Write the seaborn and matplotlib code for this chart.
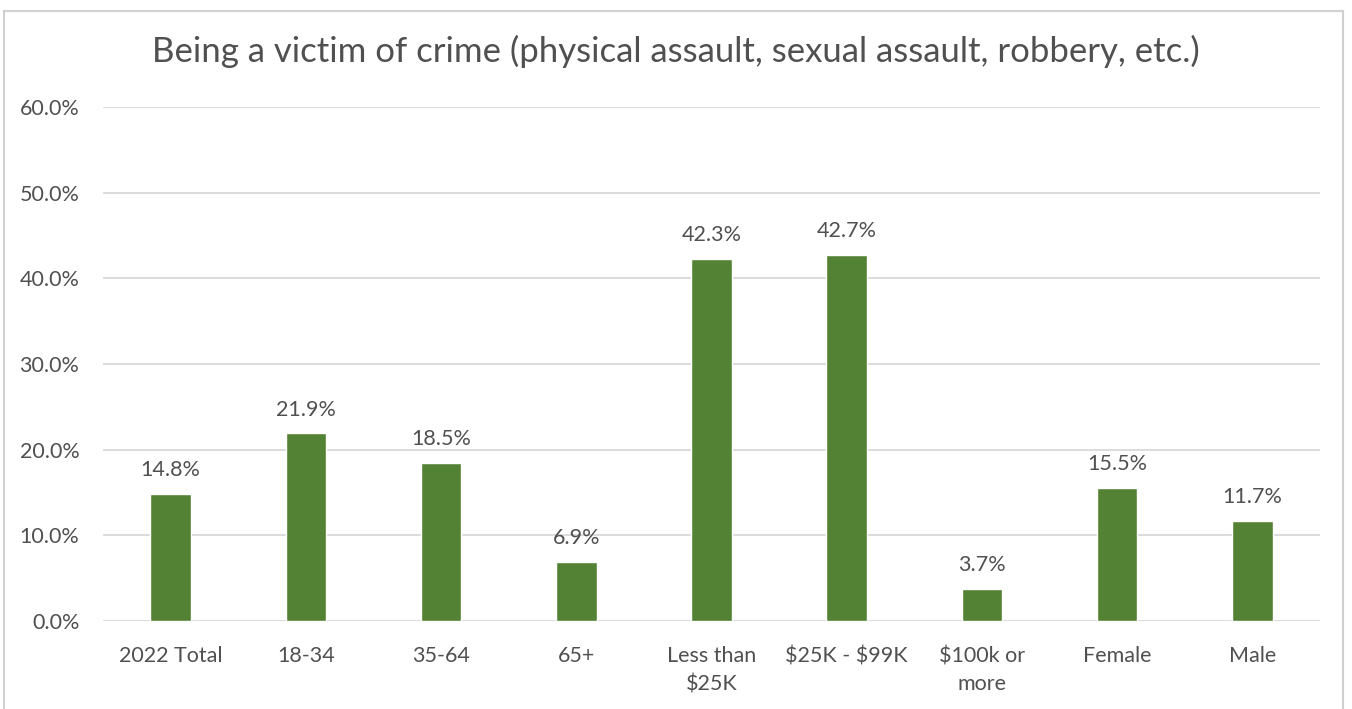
import matplotlib
matplotlib.use("Agg")
import matplotlib.pyplot as plt
import matplotlib.patches as mpatches
import seaborn as sns
import pandas as pd

categories = ["2022 Total", "18-34", "35-64", "65+", "Less than\n$25K",
              "$25K - $99K", "$100k or\nmore", "Female", "Male"]
values = [14.8, 21.9, 18.5, 6.9, 42.3, 42.7, 3.7, 15.5, 11.7]
yticks = [0, 10, 20, 30, 40, 50, 60]

title = "Being a victim of crime (physical assault, sexual assault, robbery, etc.)"
bar_color = "#548235"
text_color = "#505050"
grid_color = "#d9d9d9"

sns.set_theme(style="white")
plt.rcParams["font.family"] = ["Lato", "DejaVu Sans"]

df = pd.DataFrame({"group": categories, "pct": values})

fig = plt.figure(figsize=(13.52, 7.09), dpi=100)
ax = fig.add_axes([0.0762, 0.1241, 0.9, 0.7249])

sns.barplot(data=df, x="group", y="pct", color=bar_color, width=0.3,
            saturation=1, ax=ax, zorder=3)

ax.set_xlim(-0.5, len(categories) - 0.5)
ax.set_ylim(0, 60)
ax.set_yticks(yticks)
ax.set_yticklabels([f"{t:.1f}%" for t in yticks], fontsize=15.5, color=text_color)
ax.set_xticks(range(len(categories)))
ax.set_xticklabels(categories, fontsize=15.5, color=text_color,
                   linespacing=1.5, va="top")
for lbl in ax.get_xticklabels():
    lbl.set_parse_math(False)
ax.tick_params(axis="both", length=0)
ax.tick_params(axis="x", pad=18)
ax.tick_params(axis="y", pad=17)
ax.set_xlabel("")
ax.set_ylabel("")
for t in yticks:
    ax.axhline(t, color=grid_color, lw=1.3, zorder=1)
for s in ax.spines.values():
    s.set_visible(False)

for i, v in enumerate(values):
    ax.annotate(f"{v:.1f}%", (i, v), xytext=(0, 10), textcoords="offset points",
                ha="center", va="bottom", fontsize=15.5, color=text_color)

fig.text(0.5, 0.927, title, ha="center", va="center", fontsize=25, color=text_color)

# chart frame
fig.patches.append(mpatches.Rectangle((0.003, -0.01), 0.99, 0.995,
                                      transform=fig.transFigure, fill=False,
                                      edgecolor="#d0d0d0", lw=1.5))

fig.savefig("out.png", dpi=100)
